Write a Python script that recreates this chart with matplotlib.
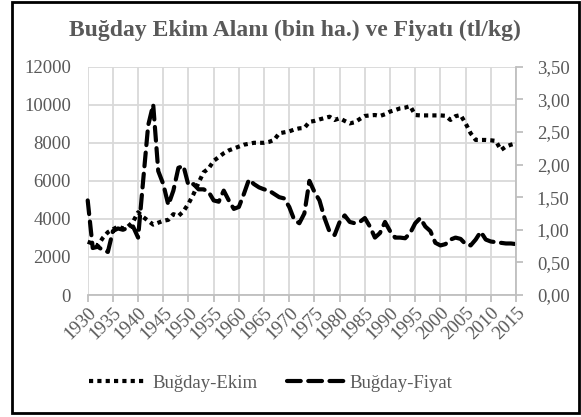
import matplotlib
matplotlib.use("Agg")
import matplotlib.pyplot as plt
from matplotlib.patches import Rectangle
from matplotlib.ticker import FuncFormatter
import matplotlib.transforms as mtransforms

years = list(range(1930, 2016))

ekim = [2800, 2700, 2600, 3000, 3300, 3450, 3600, 3500, 3600, 3850,
        4350, 4100, 3900, 3700, 3800, 3900, 3950, 4250, 4150, 4400,
        4800, 5300, 5900, 6450, 6650, 7050, 7250, 7450, 7600, 7700,
        7800, 7900, 7950, 8000, 8000, 8000, 8050, 8150, 8500, 8550,
        8600, 8700, 8760, 8780, 9100, 9150, 9230, 9300, 9370, 9200,
        9290, 9150, 9020, 9080, 9250, 9410, 9440, 9460, 9410, 9500,
        9640, 9720, 9810, 9850, 9930, 9460, 9440, 9440, 9440, 9440,
        9440, 9420, 9200, 9400, 9460, 9020, 8500, 8150, 8150, 8150,
        8130, 8100, 7620, 7800, 7900, 7970]

fiyat = [1.45, 0.72, 0.74, 0.69, 0.66, 0.98, 1.02, 1.00, 1.03, 1.05,
         0.88, 1.75, 2.60, 2.92, 1.90, 1.70, 1.38, 1.60, 1.95, 1.98,
         1.68, 1.70, 1.62, 1.62, 1.58, 1.45, 1.43, 1.60, 1.45, 1.32,
         1.35, 1.55, 1.77, 1.70, 1.65, 1.62, 1.60, 1.55, 1.50, 1.48,
         1.35, 1.15, 1.10, 1.25, 1.75, 1.58, 1.45, 1.18, 0.97, 0.92,
         1.12, 1.22, 1.12, 1.10, 1.12, 1.18, 1.05, 0.88, 0.95, 1.12,
         0.98, 0.88, 0.88, 0.87, 0.95, 1.10, 1.18, 1.05, 0.98, 0.80,
         0.76, 0.78, 0.85, 0.88, 0.86, 0.78, 0.76, 0.85, 0.97, 0.85,
         0.82, 0.81, 0.80, 0.79, 0.79, 0.78]

x_ticks = list(range(1930, 2016, 5))
left_ticks = [0, 2000, 4000, 6000, 8000, 10000, 12000]
right_ticks = [0.0, 0.5, 1.0, 1.5, 2.0, 2.5, 3.0, 3.5]

title = "Buğday Ekim Alanı (bin ha.) ve Fiyatı (tl/kg)"
label_ekim = "Buğday-Ekim"
label_fiyat = "Buğday-Fiyat"

plt.rcParams['font.family'] = ['Liberation Serif', 'DejaVu Serif']
gray = '#595959'
gridc = '#d9d9d9'

fig = plt.figure(figsize=(5.81, 4.17), dpi=100)
ax = fig.add_axes([87.7/581, 1-295/417, (516-87.7)/581, (295-66.7)/417])
ax2 = ax.twinx()

ax.set_xlim(1930, 2015)
ax.set_ylim(0, 12000)
ax2.set_ylim(0, 3.5)
ax.set_xticks(x_ticks)
ax.set_yticks(left_ticks)
ax2.set_yticks(right_ticks)
ax.set_xticklabels([str(v) for v in x_ticks], rotation=45, ha='right',
                   va='top', rotation_mode='anchor')
offset = mtransforms.ScaledTranslation(-5/100, 0, fig.dpi_scale_trans)
for lbl in ax.get_xticklabels():
    lbl.set_transform(lbl.get_transform() + offset)
ax.grid(True, color=gridc, linewidth=1.3)
ax.set_axisbelow(True)
ax2.yaxis.set_major_formatter(FuncFormatter(lambda v, p: f"{v:.2f}".replace('.', ',')))

for a in (ax, ax2):
    for s in a.spines.values():
        s.set_visible(False)
ax2.spines['right'].set_visible(True)
ax2.spines['right'].set_color('#bfbfbf')
ax2.spines['right'].set_linewidth(1.3)
ax.spines['bottom'].set_visible(True)
ax.spines['bottom'].set_color('#bfbfbf')
ax.spines['bottom'].set_linewidth(1.3)

ax.tick_params(axis='y', length=0, labelsize=13.5, labelcolor=gray, pad=12)
ax.tick_params(axis='x', length=5, width=1.3, color='#bfbfbf', labelsize=13.5, labelcolor=gray, pad=2)
ax2.tick_params(axis='y', length=5, width=1.3, color='#bfbfbf', labelsize=13.5, labelcolor=gray, pad=10)

l1, = ax.plot(years, ekim, color='black', linewidth=3.0, linestyle=(0, (1, 1)),
              dash_capstyle='butt', label=label_ekim)
l2, = ax2.plot(years, fiyat, color='black', linewidth=3.0, linestyle=(0, (3.3, 1.8)),
               dash_capstyle='round', label=label_fiyat)
for l in (l1, l2):
    l.set_clip_on(False)

fig.text(295/581, 1-30/417, title, ha='center', va='center', fontsize=17,
         fontweight='bold', color=gray)

leg = fig.legend(handles=[l1, l2], loc='center', bbox_to_anchor=(271/581, 1-383/417),
                 ncol=2, frameon=False, fontsize=13.5, handlelength=3.1,
                 columnspacing=1.6, handletextpad=0.25)
for t in leg.get_texts():
    t.set_color(gray)

fig.patches.append(Rectangle((12/581, 4/417), (579-12)/581, (416-5)/417,
                             transform=fig.transFigure, fill=False,
                             edgecolor='black', linewidth=2))

fig.savefig('out.png', dpi=100)
